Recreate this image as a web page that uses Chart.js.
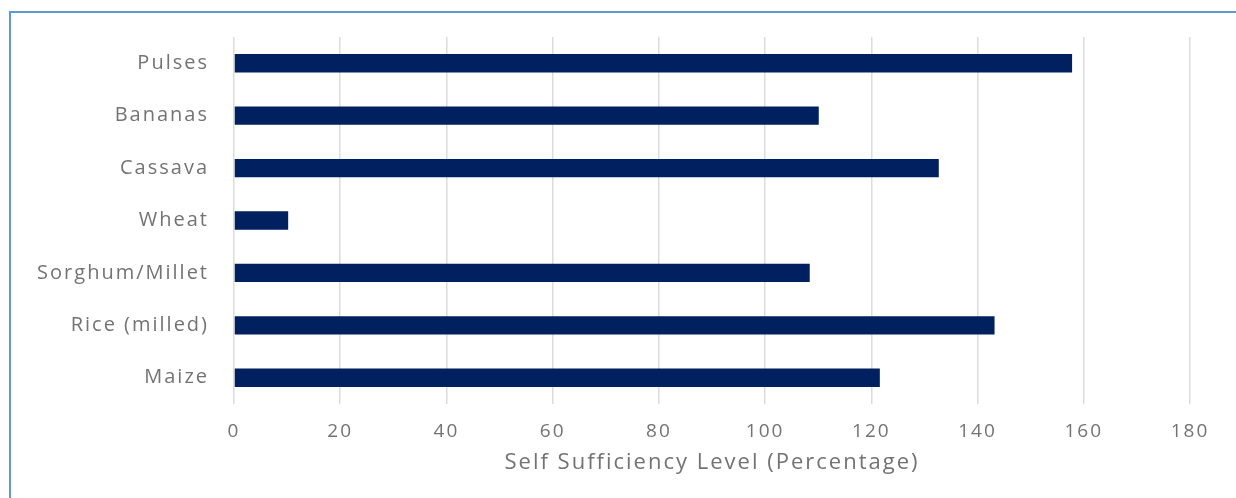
<!DOCTYPE html>
<html>
<head>
<meta charset="utf-8">
<script src="https://cdn.jsdelivr.net/npm/chart.js@4"></script>
<style>
  html, body { margin: 0; padding: 0; background: #ffffff; }
  body { width: 1236px; height: 498px; position: relative; overflow: hidden; }
  #frame { position: absolute; left: 9px; top: 11px; width: 1300px; height: 520px;
           border: 2px solid #5B9BD5; box-sizing: border-box; }
  #wrap { position: absolute; left: 0; top: 0; width: 1236px; height: 498px; }
</style>
</head>
<body>
<div id="frame"></div>
<div id="wrap"><canvas id="c" width="1236" height="498"></canvas></div>
<script>
const categories = ["Pulses", "Bananas", "Cassava", "Wheat", "Sorghum/Millet", "Rice (milled)", "Maize"];
const selfSufficiency = [157.8, 110.1, 132.7, 10.2, 108.4, 143.2, 121.6];
const xTicks = [0, 20, 40, 60, 80, 100, 120, 140, 160, 180];
const axisTitle = "Self Sufficiency Level (Percentage)";

const FONT = "'Open Sans', sans-serif";
const TEXT = "#737373";

const spacingPlugin = {
  id: 'spacing',
  beforeLayout(chart) { chart.ctx.letterSpacing = '2px'; },
  beforeDraw(chart) { chart.ctx.letterSpacing = '2px'; }
};

new Chart(document.getElementById('c'), {
  type: 'bar',
  data: {
    labels: categories,
    datasets: [{
      data: selfSufficiency,
      backgroundColor: '#002060',
      borderWidth: 0,
      categoryPercentage: 1,
      barPercentage: 0.35
    }]
  },
  plugins: [spacingPlugin],
  options: {
    indexAxis: 'y',
    responsive: false,
    animation: false,
    layout: { padding: { left: 0, top: 36, right: 46, bottom: 0 } },
    plugins: { legend: { display: false }, tooltip: { enabled: false } },
    scales: {
      x: {
        min: xTicks[0],
        max: xTicks[xTicks.length - 1],
        afterBuildTicks: (s) => { s.ticks = xTicks.map(v => ({ value: v })); },
        afterFit: (s) => { s.height = 94; },
        grid: { color: '#dcdcdc', lineWidth: 1.5, drawTicks: false },
        border: { display: false },
        ticks: { color: TEXT, font: { family: FONT, size: 19 }, padding: 16, maxRotation: 0 },
        title: {
          display: true, text: axisTitle, color: TEXT,
          font: { family: FONT, size: 22 }, padding: { top: 0, bottom: 22 }
        }
      },
      y: {
        afterFit: (s) => { s.width = 234; },
        grid: { display: false, drawTicks: false },
        border: { display: false },
        ticks: { color: TEXT, font: { family: FONT, size: 20 }, padding: 25 }
      }
    }
  }
});
</script>
</body>
</html>
